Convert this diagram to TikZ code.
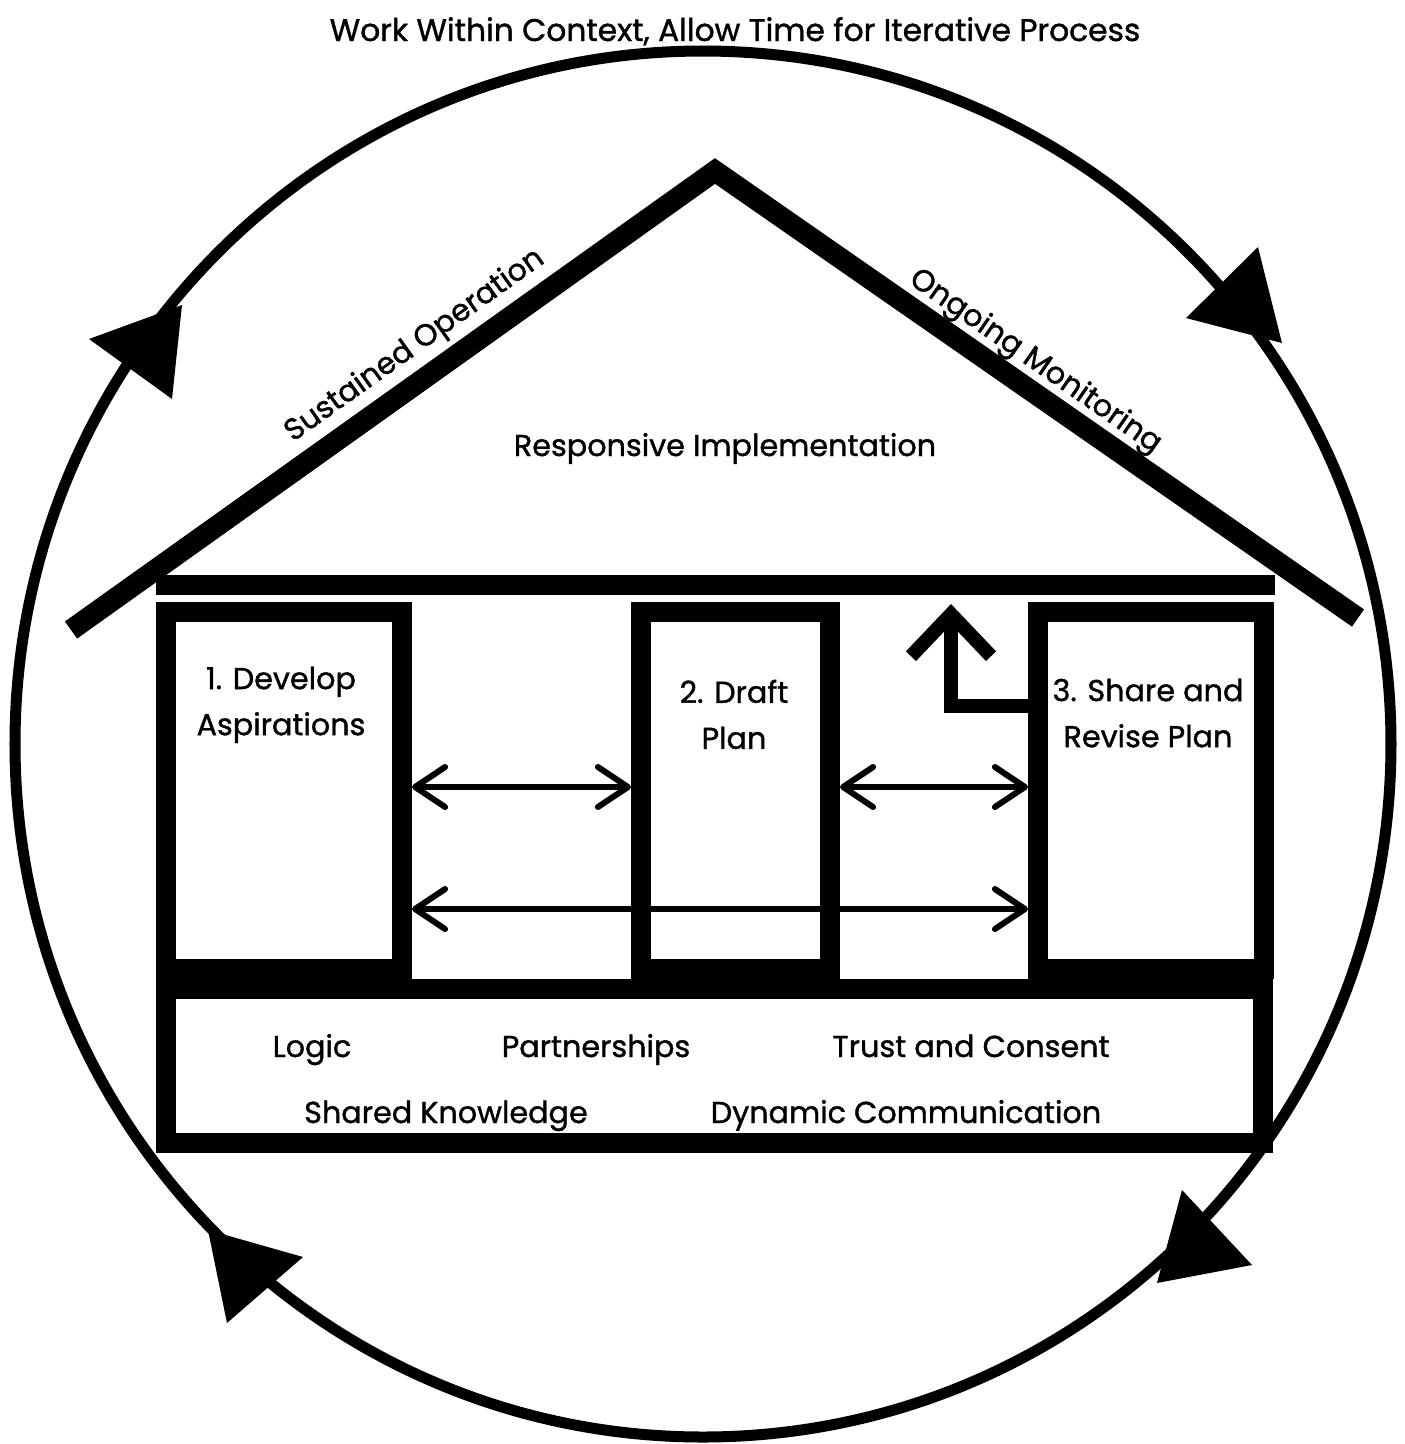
\documentclass[tikz,border=0pt]{standalone}
\usepackage{fontspec}
\setmainfont{Poppins}[FakeBold=1.2]
\usetikzlibrary{arrows.meta}
\begin{document}
\begin{tikzpicture}[x=0.01cm,y=-0.01cm,
  lbl/.style={font=\fontsize{8.6}{13.1}\selectfont, inner sep=0, align=center},
  wall/.style={draw, line width=0.2cm, inner sep=0, minimum width=#1},
  roofline/.style={line width=0.21cm, line join=miter},
  ring/.style={line width=0.11cm},
  dbl/.style={line width=0.06cm, {Straight Barb[round,length=0.3cm,width=0.4cm]}-{Straight Barb[round,length=0.3cm,width=0.4cm]}},
  uparrow/.style={line width=0.14cm, line join=miter, -{Straight Barb[length=0.42cm,width=0.8cm]}}]
\useasboundingbox (0,0) rectangle (1405,1444);
% outer ring
\draw[ring] (703,744) ellipse[x radius=688, y radius=693];
\fill (89,339) -- (172,399) -- (182,305) -- cycle;
\fill (1258,247) -- (1186,318) -- (1282,343) -- cycle;
\fill (1182,1190) -- (1252,1265) -- (1157,1283) -- cycle;
\fill (208,1230) -- (303,1257) -- (227,1323) -- cycle;
% roof
\draw[roofline] (71,630) -- (715,171) -- (1358,618);
% ceiling bar
\draw[line width=0.2cm] (156,585) -- (1275,585);
% rooms
\node[wall=2.36cm, minimum height=3.57cm] (b1) at (284,790.5) {};
\node[wall=1.89cm, minimum height=3.57cm] (b2) at (735.5,790.5) {};
\node[wall=2.26cm, minimum height=3.57cm] (b3) at (1151,790.5) {};
\node[wall=10.97cm, minimum height=1.54cm] (fd) at (714.5,1066) {};
% arrows
\coordinate (r1) at (0,787);
\coordinate (r2) at (0,909);
\coordinate (r3) at (0,706);
\coordinate (tip) at (951,604);
\draw[dbl] (b1.east |- r1) -- (b2.west |- r1);
\draw[dbl] (b2.east |- r1) -- (b3.west |- r1);
\draw[dbl] (b1.east |- r2) -- (b3.west |- r2);
\draw[uparrow] (b3.west |- r3) -| (tip);
% texts
\node[lbl, font=\fontsize{8.9}{13.1}\selectfont, anchor=base] (title) at (735,41) {Work Within Context, Allow Time for Iterative Process};
\node[lbl, rotate=35.5] (so) at (415,346) {Sustained Operation};
\node[lbl, rotate=-34.8] (om) at (1035,362) {Ongoing Monitoring};
\node[lbl, anchor=base] (ri) at (725,456) {Responsive Implementation};
\node[lbl, anchor=north] (t1) at (281,666) {1. Develop\\Aspirations};
\node[lbl, anchor=north] (t2) at (734,679) {2. Draft\\Plan};
\node[lbl, anchor=north] (t3) at (1148,678) {3. Share and\\Revise Plan};
\node[lbl, anchor=base] (f1) at (312,1057) {Logic};
\node[lbl, anchor=base] (f2) at (596,1057) {Partnerships};
\node[lbl, anchor=base] (f3) at (971,1057) {Trust and Consent};
\node[lbl, anchor=base] (f4) at (446,1123) {Shared Knowledge};
\node[lbl, anchor=base] (f5) at (906,1123) {Dynamic Communication};
\end{tikzpicture}
\end{document}
